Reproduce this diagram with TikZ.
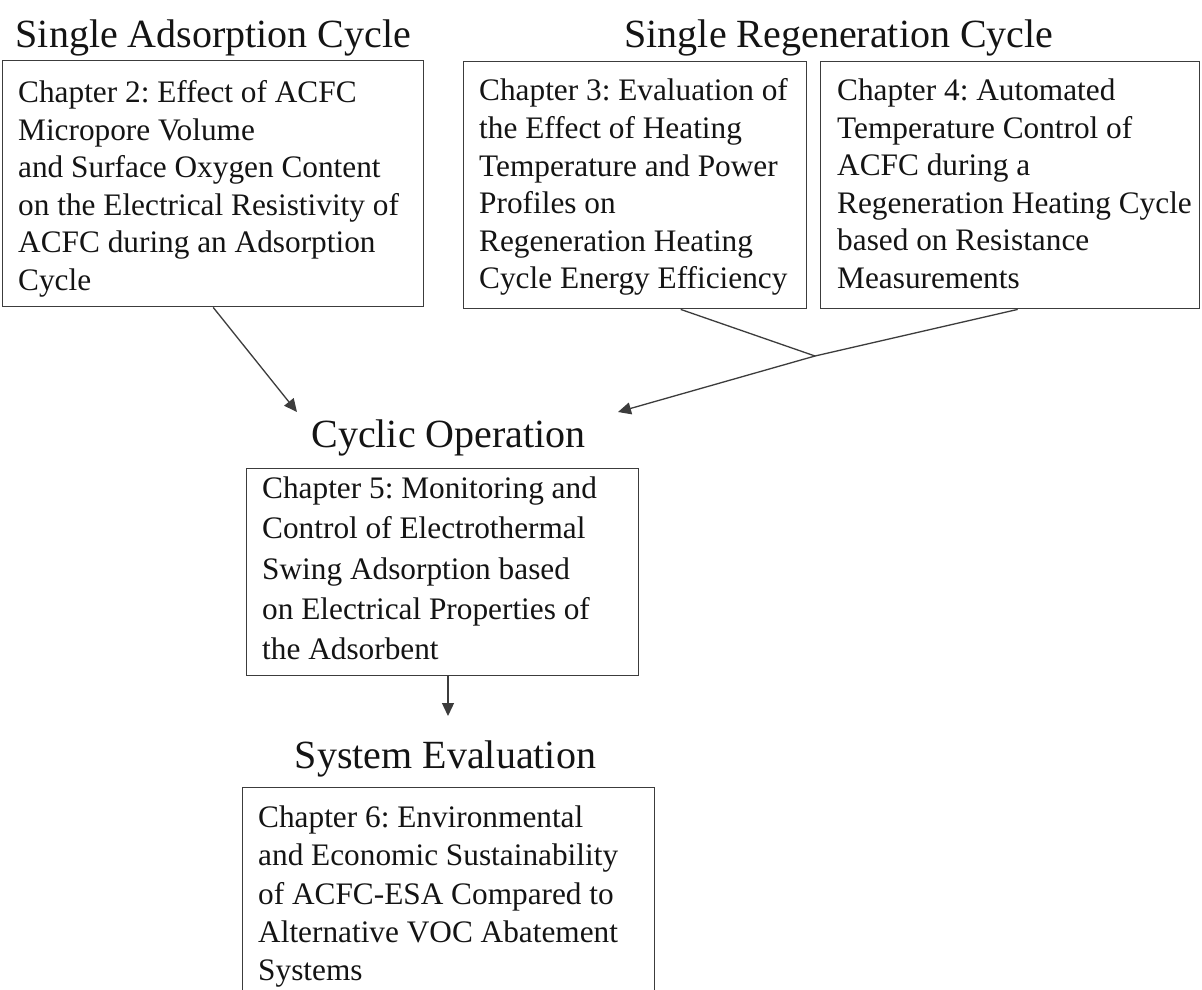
\documentclass[tikz,border=0pt]{standalone}
\usepackage{fontspec}
\setmainfont{Liberation Serif}
\usetikzlibrary{arrows.meta,calc}
\definecolor{linegray}{HTML}{3C3C3C}
\definecolor{inkcol}{HTML}{141414}
\frenchspacing
\begin{document}
\begin{tikzpicture}[x=1pt,y=-1pt,
  frame/.style={draw=linegray, line width=1.4pt, rectangle, inner sep=0pt, anchor=north west},
  txt/.style={text=inkcol, align=left, inner sep=0pt, anchor=north west},
  heading/.style={text=inkcol, inner sep=0pt, anchor=base, font=\fontsize{40}{48}\selectfont},
  conn/.style={draw=linegray, line width=1.3pt},
  tip/.style={-{Triangle[length=13pt,width=12pt]}}]
\useasboundingbox (0,0) rectangle (1202,989);
\clip (0,0) rectangle (1202,989);
\fill[white] (0,0) rectangle (1202,989);

% headings
\node[heading] (h1) at (213.5,47) {Single Adsorption Cycle};
\node[heading] (h2) at (839,47) {Single Regeneration Cycle};
\node[heading] (h3) at (448.5,447) {Cyclic Operation};
\node[heading] (h4) at (445.5,768) {System Evaluation};

% boxes
\node[frame, minimum width=421pt, minimum height=246pt] (b1) at (2,60) {};
\node[frame, minimum width=343pt, minimum height=247pt] (b3) at (463,61) {};
\node[frame, minimum width=379pt, minimum height=247pt] (b4) at (820,61) {};
\node[frame, minimum width=392pt, minimum height=207pt] (b5) at (246,468) {};
\node[frame, minimum width=412pt, minimum height=230pt] (b6) at (242,787) {};

% box texts
\node[txt, font=\fontsize{31.3}{37.5}\selectfont] (t1) at ($(b1.north west)+(16,20.3)$)
  {Chapter 2: Effect of ACFC\\Micropore Volume\\and Surface Oxygen Content\\on the Electrical Resistivity of\\ACFC during an Adsorption\\Cycle};
\node[txt, font=\fontsize{31.3}{37.6}\selectfont] (t3) at ($(b3.north west)+(16,17.6)$)
  {Chapter 3: Evaluation of\\the Effect of Heating\\Temperature and Power\\Profiles on\\Regeneration Heating\\Cycle Energy Efficiency};
\node[txt, font=\fontsize{31.3}{37.6}\selectfont] (t4) at ($(b4.north west)+(17,17.6)$)
  {Chapter 4: Automated\\Temperature Control of\\ACFC during a\\Regeneration Heating Cycle\\based on Resistance\\Measurements};
\node[txt, font=\fontsize{31.3}{40.3}\selectfont] (t5) at ($(b5.north west)+(16,8.5)$)
  {Chapter 5: Monitoring and\\Control of Electrothermal\\Swing Adsorption based\\on Electrical Properties of\\the Adsorbent};
\node[txt, font=\fontsize{31.3}{38.3}\selectfont] (t6) at ($(b6.north west)+(16,18.6)$)
  {Chapter 6: Environmental\\and Economic Sustainability\\of ACFC-ESA Compared to\\Alternative VOC Abatement\\Systems};

% connectors
\coordinate (c1) at (297,412);
\coordinate (j) at (815,356);
\coordinate (c2) at (618,412);
\coordinate (c3) at (448,716);
\draw[conn, tip] (b1.south) -- (c1);
\draw[conn] ([xshift=45.5pt]b3.south) -- (j);
\draw[conn] ([xshift=7.5pt]b4.south) -- (j);
\draw[conn, tip] (j) -- (c2);
\draw[conn, tip] (b5.south -| c3) -- (c3);
\end{tikzpicture}
\end{document}
